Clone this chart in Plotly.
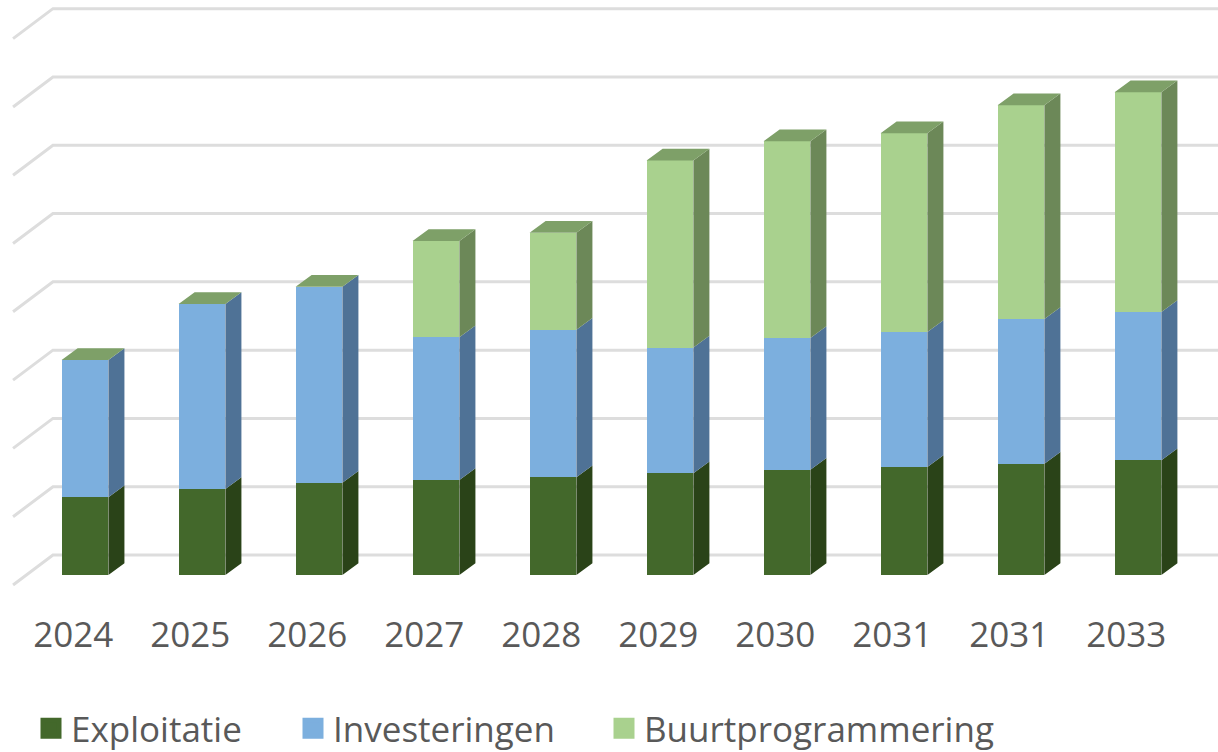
import plotly.graph_objects as go

years = ["2024", "2025", "2026", "2027", "2028", "2029", "2030", "2031", "2031", "2033"]
exploitatie = [1.14, 1.26, 1.35, 1.39, 1.43, 1.49, 1.54, 1.58, 1.63, 1.68]
investeringen = [2.01, 2.71, 2.87, 2.09, 2.16, 1.84, 1.93, 1.98, 2.12, 2.17]
buurt = [0, 0, 0, 1.41, 1.42, 2.74, 2.88, 2.91, 3.13, 3.22]
grid_levels = [0, 1, 2, 3, 4, 5, 6, 7, 8]

names = ["Exploitatie", "Investeringen", "Buurtprogrammering"]
front = ["#43682B", "#7CAFDE", "#A9D18E"]
side = ["#2A4318", "#4F7296", "#6C8858"]
top_colour = "#7EA068"

BAR_W = 0.40      # category units
DX, DY = 0.137, 0.172   # bar depth
WALL_DY = 0.293        # back wall height offset of a grid line
FLOOR_DY = -0.146      # front edge of the floor
WALL_X0, FLOOR_X0 = -0.274, -0.615
LABEL_SHIFT = -0.1     # tick labels sit left of the bars in the reference

xs = list(range(len(years)))
series = [exploitatie, investeringen, buurt]

fig = go.Figure()

# bars
for name, vals, col in zip(names, series, front):
    fig.add_trace(go.Bar(x=xs, y=vals, name=name, width=BAR_W, marker=dict(color=col, line=dict(width=0)),
                         showlegend=False, hoverinfo="y"))
# legend entries (each in its own legend so the gaps match)
for name, col, lg in zip(names, front, ["legend", "legend2", "legend3"]):
    fig.add_trace(go.Scatter(x=[None], y=[None], name=name, mode="markers", legend=lg,
                             marker=dict(symbol="square", size=16, color=col, line=dict(color=col, width=5))))

# side faces
base = [0.0] * len(xs)
for vals, col in zip(series, side):
    px, py = [], []
    for i, v in enumerate(vals):
        xr = i + BAR_W / 2
        y0, y1 = base[i], base[i] + v
        px += [xr, xr + DX, xr + DX, xr, xr, None]
        py += [y0, y0 + DY, y1 + DY, y1, y0, None]
        base[i] = y1
    fig.add_trace(go.Scatter(x=px, y=py, mode="lines", fill="toself", fillcolor=col,
                             line=dict(width=0, color=col), showlegend=False, hoverinfo="skip"))
# top faces
px, py = [], []
for i, t in enumerate(base):
    xl, xr = i - BAR_W / 2, i + BAR_W / 2
    px += [xl, xr, xr + DX, xl + DX, xl, None]
    py += [t, t, t + DY, t + DY, t, None]
fig.add_trace(go.Scatter(x=px, y=py, mode="lines", fill="toself", fillcolor=top_colour,
                         line=dict(width=0, color=top_colour), showlegend=False, hoverinfo="skip"))

# grid: floor edge + back wall, behind the bars
shapes = []
for k in grid_levels:
    shapes.append(dict(type="path", layer="below", xref="x", yref="y",
                       path=f"M {FLOOR_X0} {k + FLOOR_DY} L {WALL_X0} {k + WALL_DY} L 9.69 {k + WALL_DY}",
                       line=dict(color="#DDDDDD", width=3)))

def legend_at(xpx):
    return dict(orientation="h", x=xpx / 1218, xanchor="left", y=-0.165, yanchor="top",
                font=dict(size=35, color="#595959"), itemwidth=30, bgcolor="rgba(0,0,0,0)")

fig.update_layout(
    width=1218, height=752, margin=dict(l=0, r=0, t=0, b=152, autoexpand=False),
    paper_bgcolor="white", plot_bgcolor="white", barmode="stack", shapes=shapes,
    font=dict(family="Open Sans", color="#595959", size=35),
    xaxis=dict(range=[-0.7265, 9.684], tickmode="array", tickvals=[x + LABEL_SHIFT for x in xs], ticktext=years,
               showgrid=False, zeroline=False, showline=False, ticks="outside", ticklen=4, tickcolor="rgba(0,0,0,0)",
               tickfont=dict(size=35, color="#595959")),
    yaxis=dict(range=[-0.366, 8.42], visible=False),
    legend=legend_at(31), legend2=legend_at(293), legend3=legend_at(604),
)

fig.write_html("out.html", config=dict(displayModeBar=False),
               post_script="document.body.style.margin='0';document.body.style.overflow='hidden';")
